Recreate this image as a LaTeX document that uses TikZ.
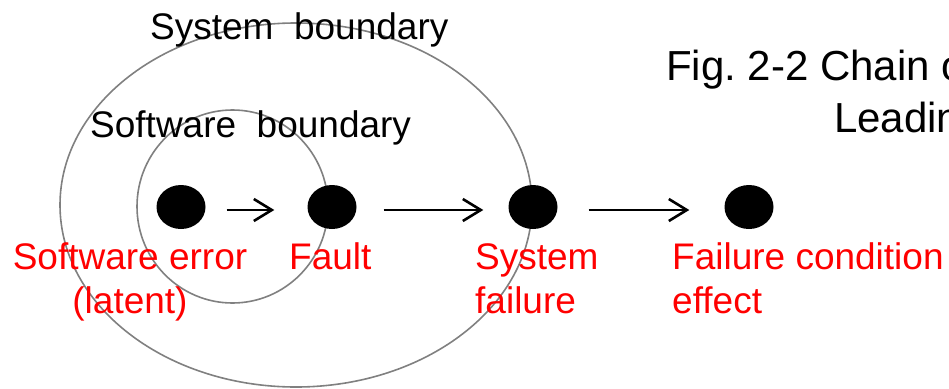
\documentclass[tikz,border=0pt]{standalone}
\usepackage{fontspec}
\setmainfont{Liberation Sans}
\usetikzlibrary{arrows.meta,shapes.geometric}
\definecolor{bgray}{HTML}{808080}
\definecolor{lred}{HTML}{FF0000}
\tikzset{
  boundary/.style={draw=bgray, line width=1.6pt},
  dot/.style={ellipse, fill=black, draw=none, inner sep=0pt, minimum width=49pt, minimum height=44pt},
  chain/.style={line width=2.6pt, -{Straight Barb[length=18pt,width=22pt,line width=2.6pt]}},
  blabel/.style={inner sep=0pt, text=black, font=\fontsize{37}{44}\selectfont},
  rlabel/.style={inner sep=0pt, text=lred, font=\fontsize{37}{44}\selectfont},
  caption/.style={inner sep=0pt, text=black, font=\fontsize{42}{52}\selectfont}
}
\frenchspacing
\begin{document}
\begin{tikzpicture}[x=1pt, y=-1pt]
\useasboundingbox (0,0) rectangle (949,388);
% boundaries
\draw[boundary] (296,205) ellipse [x radius=236pt, y radius=182pt];
\draw[boundary] (232.5,206.5) ellipse [x radius=95.5pt, y radius=96.5pt];
% boundary labels
\node[blabel, anchor=base west] (sysb) at (150,39) {System~~boundary};
\node[blabel, anchor=base west] (swb) at (90,137) {Software~~boundary};
% caption
\node[caption, anchor=base west] (cap1) at (666,80) {Fig.\ 2-2 Chain of};
\node[caption, anchor=base west] (cap2) at (834,132) {Leading};
% dots
\node[dot] (se) at (181,207) {};
\node[dot] (fault) at (332,207) {};
\node[dot] (sf) at (533,207) {};
\node[dot] (fc) at (749,207) {};
% arrows
\draw[chain, shorten <=21pt, shorten >=33pt] ([yshift=-3pt]se.east) -- ([yshift=-3pt]fault.west);
\draw[chain, shorten <=27pt, shorten >=25pt] ([yshift=-3pt]fault.east) -- ([yshift=-3pt]sf.west);
\draw[chain, shorten <=31pt, shorten >=35pt] ([yshift=-3pt]sf.east) -- ([yshift=-3pt]fc.west);
% red labels
\node[rlabel, anchor=base] (se1) at (130,269) {Software error};
\node[rlabel, anchor=base] (se2) at (130,313) {(latent)};
\node[rlabel, anchor=base west] (fl1) at (289,269) {Fault};
\node[rlabel, anchor=base west] (sf1) at (475,269) {System};
\node[rlabel, anchor=base west] (sf2) at (475,313) {failure};
\node[rlabel, anchor=base west] (fc1) at (672,269) {Failure condition};
\node[rlabel, anchor=base west] (fc2) at (672,313) {effect};
\end{tikzpicture}
\end{document}
